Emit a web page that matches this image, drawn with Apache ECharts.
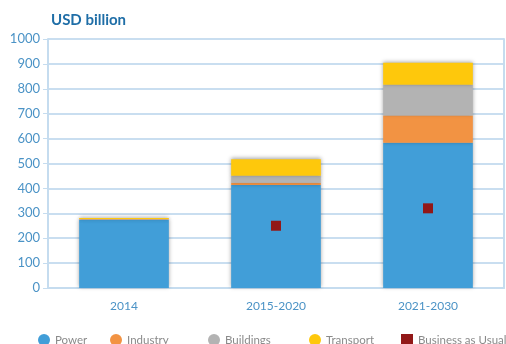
<!DOCTYPE html>
<html><head><meta charset="utf-8">
<script src="https://cdn.jsdelivr.net/npm/echarts@6/dist/echarts.min.js"></script>
<style>html,body{margin:0;padding:0;background:#fff}#c{width:506px;height:344px}</style>
</head><body><div id="c"></div>
<script>
const categories = ['2014', '2015-2020', '2021-2030'];
const power = [274, 414, 583];
const industry = [2, 9, 110];
const buildings = [1, 28, 123];
const transport = [4, 66, 89];
const bau = [null, 250, 320];
const yTicks = [0, 100, 200, 300, 400, 500, 600, 700, 800, 900, 1000];

const colors = {Power:'#419ed8', Industry:'#f29343', Buildings:'#b3b3b3', Transport:'#fec80c', 'Business as Usual':'#921818'};
const font = 'Lato, "Open Sans", sans-serif';

function bar(name, data) {
  return {name, type:'bar', stack:'s', data, barWidth:'59%',
    itemStyle:{color:colors[name], shadowColor:'rgba(0,0,0,0.35)', shadowBlur:4, shadowOffsetY:-1},
    emphasis:{disabled:true}};
}
const legendPos = [
  {name:'Power', left:33, icon:'circle'},
  {name:'Industry', left:105, icon:'circle'},
  {name:'Buildings', left:203, icon:'circle'},
  {name:'Transport', left:304, icon:'circle'},
  {name:'Business as Usual', left:396, icon:'rect'}
];
const chart = echarts.init(document.getElementById('c'), null, {renderer:'canvas'});
chart.setOption({
  animation:false,
  title:{text:'USD billion', left:46, top:8, textStyle:{fontFamily:font, fontSize:15, fontWeight:'bold', color:'#1f6ea7'}},
  grid:{left:48, right:2, top:39, bottom:56},
  legend: legendPos.map(l => ({data:[{name:l.name, icon:l.icon}], left:l.left, top:329, itemWidth:12, itemHeight:12, itemGap:0,
    textStyle:{fontFamily:font, fontSize:11.5, color:'#8a8a8a'}})),
  xAxis:{type:'category', data:categories,
    axisLine:{show:true, lineStyle:{color:'#c5dcef', width:2}}, axisTick:{show:false},
    axisLabel:{fontFamily:font, fontSize:12, color:'#4b93c6', margin:12}},
  yAxis:[{type:'value', min:0, max:1000, interval:100,
    axisLine:{show:true, lineStyle:{color:'#c5dcef', width:2}},
    axisTick:{show:true, length:5, lineStyle:{color:'#c5dcef'}},
    splitLine:{lineStyle:{color:'#c9def0', width:2}},
    axisLabel:{fontFamily:font, fontSize:13, color:'#4b93c6', margin:8,
      formatter: v => yTicks.includes(v) ? String(v) : ''}},
    {type:'value', position:'right', min:0, max:1000, interval:100,
      axisLine:{show:true, lineStyle:{color:'#c5dcef', width:2}}, axisTick:{show:false},
      axisLabel:{show:false}, splitLine:{show:false}}],
  series:[
    bar('Power', power), bar('Industry', industry), bar('Buildings', buildings), bar('Transport', transport),
    {name:'Business as Usual', type:'scatter', data:bau, symbol:'rect', symbolSize:10, z:5,
      itemStyle:{color:colors['Business as Usual'], opacity:1}}
  ]
});
</script></body></html>
